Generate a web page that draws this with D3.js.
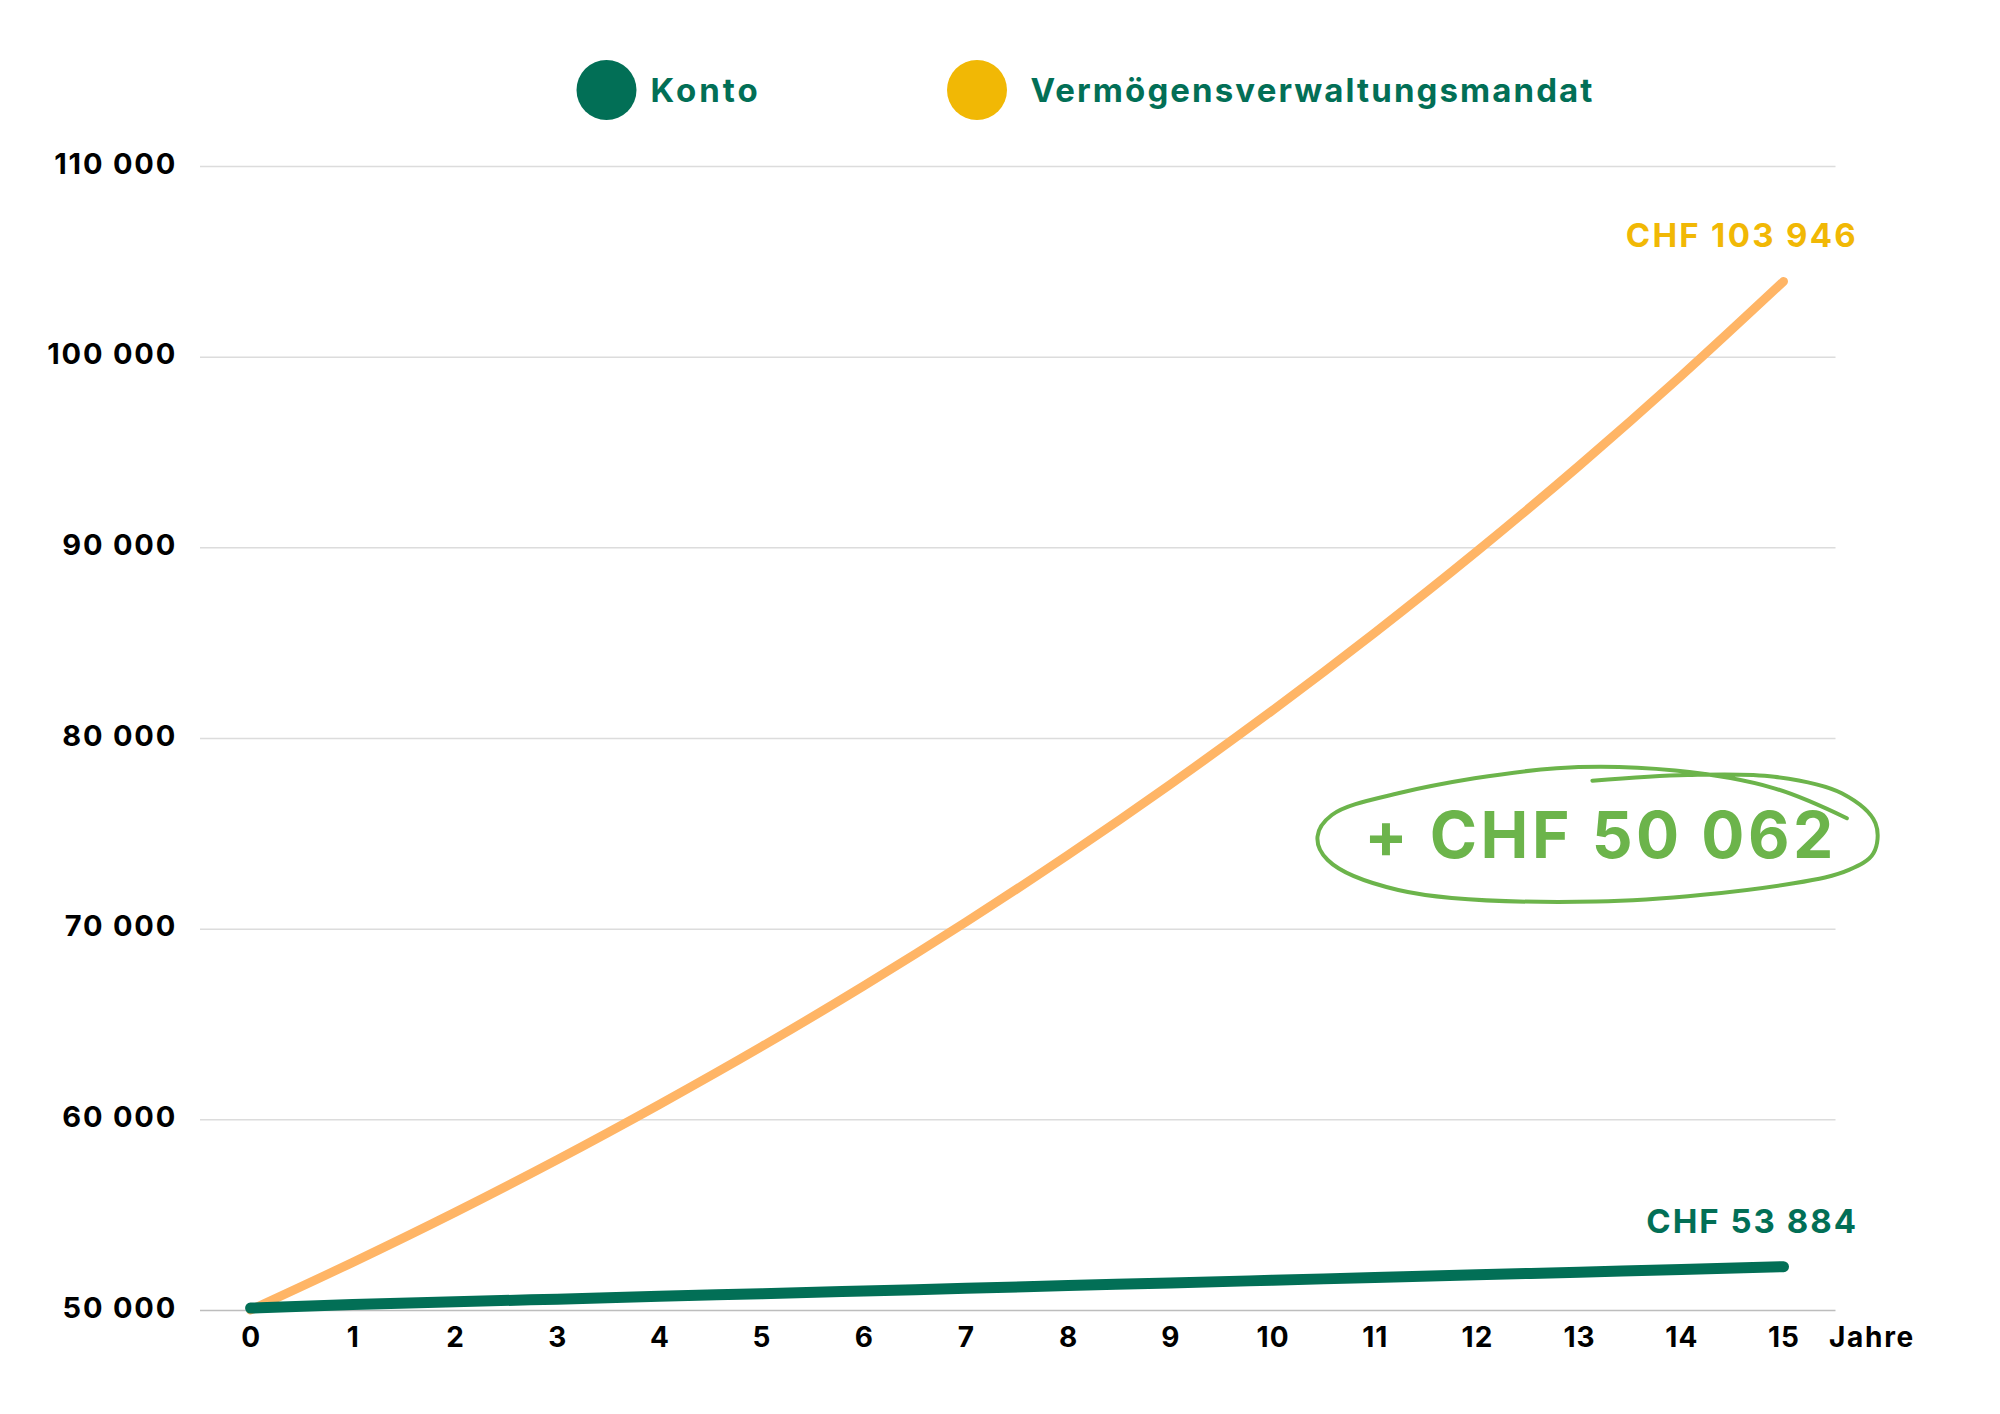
<!DOCTYPE html>
<html>
<head>
<meta charset="utf-8">
<script src="https://cdn.jsdelivr.net/npm/d3@7"></script>
<style>
  body { margin: 0; background: #fff; }
  svg { display: block; font-family: Inter, "Noto Sans", sans-serif; }
</style>
</head>
<body>
<svg id="chart" width="2000" height="1414"></svg>
<script>
// values
var years = [0, 1, 2, 3, 4, 5, 6, 7, 8, 9, 10, 11, 12, 13, 14, 15];
var konto = [50100, 50290, 50430, 50570, 50715, 50855, 50995, 51140, 51280, 51420, 51560, 51705, 51845, 51985, 52125, 52270];
var mandat = [50000, 52500, 55120, 57880, 60780, 63810, 67000, 70350, 73870, 77570, 81450, 85520, 89790, 94280, 99000, 103946];
var yTicks = [50000, 60000, 70000, 80000, 90000, 100000, 110000];
var seriesNames = ["Konto", "Vermögensverwaltungsmandat"];
var endLabels = ["CHF 53 884", "CHF 103 946"];
var diffLabel = "+ CHF 50 062";
// hand drawn loop round the difference, in (year, CHF)
var loopYears = [13.13, 14.06, 14.91, 15.57, 15.9, 15.88, 15.64, 15.1, 13.17, 11.23, 10.54, 10.44, 10.58, 11.23, 12.78, 13.94, 14.91, 15.62];
var loopValues = [77760, 78060, 77970, 77100, 75530, 73950, 73080, 72380, 71420, 72030, 73600, 74830, 75960, 77100, 78410, 78290, 77360, 75790];

var dark = "#026f56", yellow = "#f1b805", orange = "#ffb566", lime = "#6cb44b";

var svg = d3.select("#chart");

var x = d3.scaleLinear().domain([0, 15]).range([250.6, 1783.5]);
var y = d3.scaleLinear().domain([50000, 110000]).range([1310, 166]);

var fmt = d3.formatLocale({decimal: ".", thousands: " ", grouping: [3], currency: ["", ""]}).format(",");

// grid + y labels
var yAxis = svg.append("g")
    .attr("transform", "translate(200,0)")
    .call(d3.axisLeft(y).tickValues(yTicks).tickFormat(fmt).tickSize(-1635.5).tickPadding(23));
yAxis.select(".domain").remove();
yAxis.selectAll(".tick line")
    .attr("stroke", function(d) { return d === 50000 ? "#bdbdbd" : "#dcdcdc"; })
    .attr("stroke-width", 1.5);
yAxis.selectAll(".tick text")
    .attr("dy", 7)
    .attr("fill", "#000")
    .style("font-size", "29px")
    .style("font-weight", 700)
    .style("letter-spacing", "1.8px")
    .style("font-family", "Inter, sans-serif");

// x labels
var xAxis = svg.append("g")
    .attr("transform", "translate(0," + y(50000) + ")")
    .call(d3.axisBottom(x).tickValues(years).tickFormat(d3.format("d")).tickSize(0));
xAxis.select(".domain").remove();
xAxis.selectAll(".tick text")
    .attr("y", 37)
    .attr("dy", 0)
    .attr("fill", "#000")
    .style("font-size", "28px")
    .style("font-weight", 700)
    .style("letter-spacing", "1px")
    .style("font-family", "Inter, sans-serif");

svg.append("text")
    .attr("x", x(15) + 45.5)
    .attr("y", y(50000) + 37)
    .attr("fill", "#000")
    .style("font-size", "28px")
    .style("font-weight", 700)
    .style("letter-spacing", "1.7px")
    .text("Jahre");

// lines
var line = d3.line()
    .x(function(d, i) { return x(years[i]); })
    .y(function(d) { return y(d); })
    .curve(d3.curveMonotoneX);

svg.append("path")
    .datum(mandat)
    .attr("fill", "none")
    .attr("stroke", orange)
    .attr("stroke-width", 9)
    .attr("stroke-linecap", "round")
    .attr("d", line);

svg.append("path")
    .datum(konto)
    .attr("fill", "none")
    .attr("stroke", dark)
    .attr("stroke-width", 11)
    .attr("stroke-linecap", "round")
    .attr("d", line);

// end labels
svg.append("text")
    .attr("x", x(15) + 74.5)
    .attr("y", y(mandat[15]) - 34)
    .attr("text-anchor", "end")
    .attr("fill", yellow)
    .style("font-size", "33px")
    .style("font-weight", 700)
    .style("letter-spacing", "2.3px")
    .text(endLabels[1]);

svg.append("text")
    .attr("x", x(15) + 74.5)
    .attr("y", y(konto[15]) - 34)
    .attr("text-anchor", "end")
    .attr("fill", dark)
    .style("font-size", "33px")
    .style("font-weight", 700)
    .style("letter-spacing", "2px")
    .text(endLabels[0]);

// difference annotation
var loop = d3.line()
    .x(function(d, i) { return x(loopYears[i]); })
    .y(function(d) { return y(d); })
    .curve(d3.curveCatmullRom.alpha(0.5));

svg.append("path")
    .datum(loopValues)
    .attr("fill", "none")
    .attr("stroke", lime)
    .attr("stroke-width", 4)
    .attr("stroke-linecap", "round")
    .attr("d", loop);

svg.append("text")
    .attr("x", x(13.19) + 2)
    .attr("y", y(73700))
    .attr("text-anchor", "middle")
    .attr("fill", lime)
    .style("font-size", "64px")
    .style("font-weight", 700)
    .style("letter-spacing", "3.5px")
    .text(diffLabel);

// legend
var legendX = [606.5, 977];
var legend = svg.selectAll(".legend")
    .data(seriesNames)
    .enter().append("g")
      .attr("class", "legend")
      .attr("transform", function(d, i) { return "translate(" + legendX[i] + ",90)"; });

legend.append("circle")
    .attr("r", 30)
    .attr("fill", function(d, i) { return i === 0 ? dark : yellow; });

legend.append("text")
    .attr("x", function(d, i) { return i === 0 ? 44 : 53.6; })
    .attr("y", 12)
    .attr("fill", dark)
    .style("font-size", "33px")
    .style("font-weight", 700)
    .style("letter-spacing", function(d, i) { return i === 0 ? "3px" : "2.1px"; })
    .text(function(d) { return d; });
</script>
</body>
</html>
